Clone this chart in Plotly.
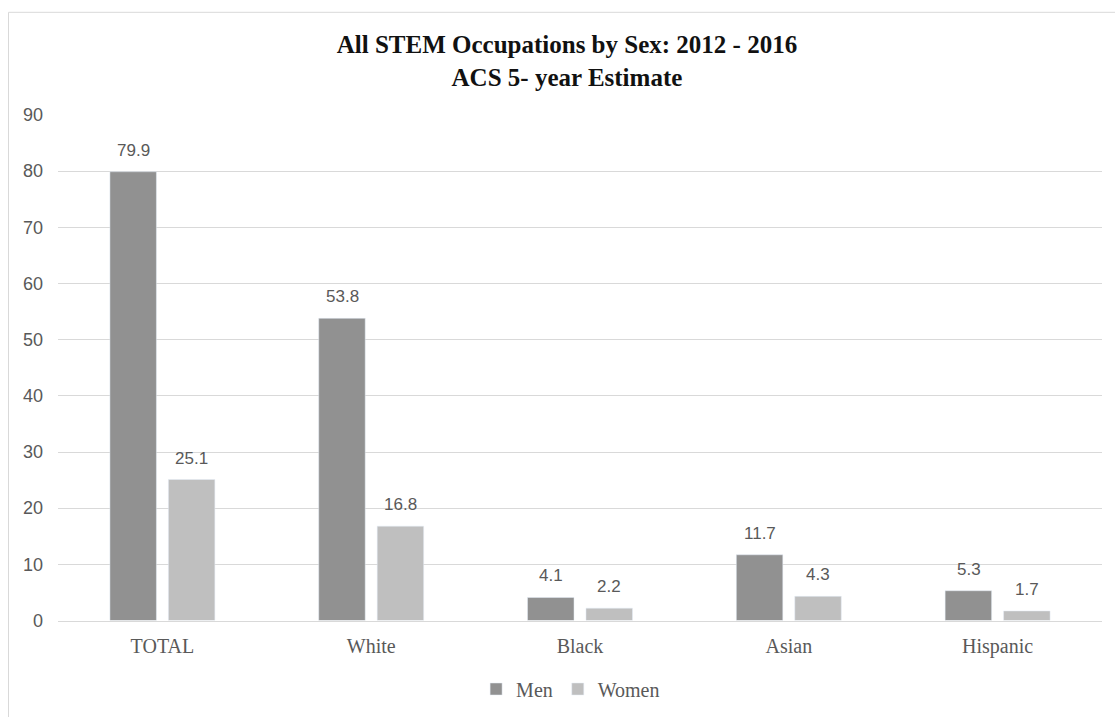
import plotly.graph_objects as go

categories = ["TOTAL", "White", "Black", "Asian", "Hispanic"]
men = [79.9, 53.8, 4.1, 11.7, 5.3]
women = [25.1, 16.8, 2.2, 4.3, 1.7]
y_ticks = [0, 10, 20, 30, 40, 50, 60, 70, 80, 90]

MEN_C = "#919191"
WOMEN_C = "#bfbfbf"
TXT = "#595959"
SERIF = "Liberation Serif, Times New Roman, serif"
SANS = "Liberation Sans, Arial, sans-serif"

fig = go.Figure()
fig.add_trace(go.Bar(name="Men", x=categories, y=men, marker_color=MEN_C))
fig.add_trace(go.Bar(name="Women", x=categories, y=women, marker_color=WOMEN_C))

annotations = []
for series, shift in ((men, -29), (women, 29)):
    for c, v in zip(categories, series):
        annotations.append(dict(
            x=c, y=v, xref="x", yref="y", text=f"{v:.1f}", showarrow=False,
            xshift=shift, yshift=10, yanchor="bottom",
            font=dict(family=SANS, size=17, color=TXT)))

fig.update_layout(
    width=1115, height=717,
    margin=dict(l=58, r=13, t=115, b=90),
    paper_bgcolor="white", plot_bgcolor="white",
    barmode="group", bargap=0.44, bargroupgap=0.205,
    title=dict(text="All STEM Occupations by Sex: 2012 - 2016<br>ACS 5- year Estimate",
               x=0.4875, xref="paper", xanchor="center", y=0.926, yanchor="middle",
               font=dict(family=SERIF, size=25, color="#111111", weight="bold")),
    xaxis=dict(showgrid=False, showline=True, linecolor="#d9d9d9", linewidth=1,
               ticks="", ticklabelstandoff=7,
               tickfont=dict(family=SERIF, size=20, color=TXT)),
    yaxis=dict(range=[0, 90], tickvals=y_ticks, showgrid=True, gridcolor="#d9d9d9",
               gridwidth=1, zeroline=False, showline=False, ticks="",
               ticklabelstandoff=14,
               tickfont=dict(family=SANS, size=18, color=TXT)),
    legend=dict(orientation="h", x=0.491, xanchor="center",
                yref="container", y=(717 - 689) / 717, yanchor="middle",
                font=dict(family=SERIF, size=20, color=TXT), itemwidth=30,
                traceorder="normal"),
    annotations=annotations,
    shapes=[dict(type="rect", xref="paper", yref="paper",
                 x0=(8.5 - 58) / 1044, x1=1.03, y0=-0.3, y1=1 + (115 - 11) / 512,
                 line=dict(color="#d9d9d9", width=1), layer="below")],
)

fig.write_html("out.html")
